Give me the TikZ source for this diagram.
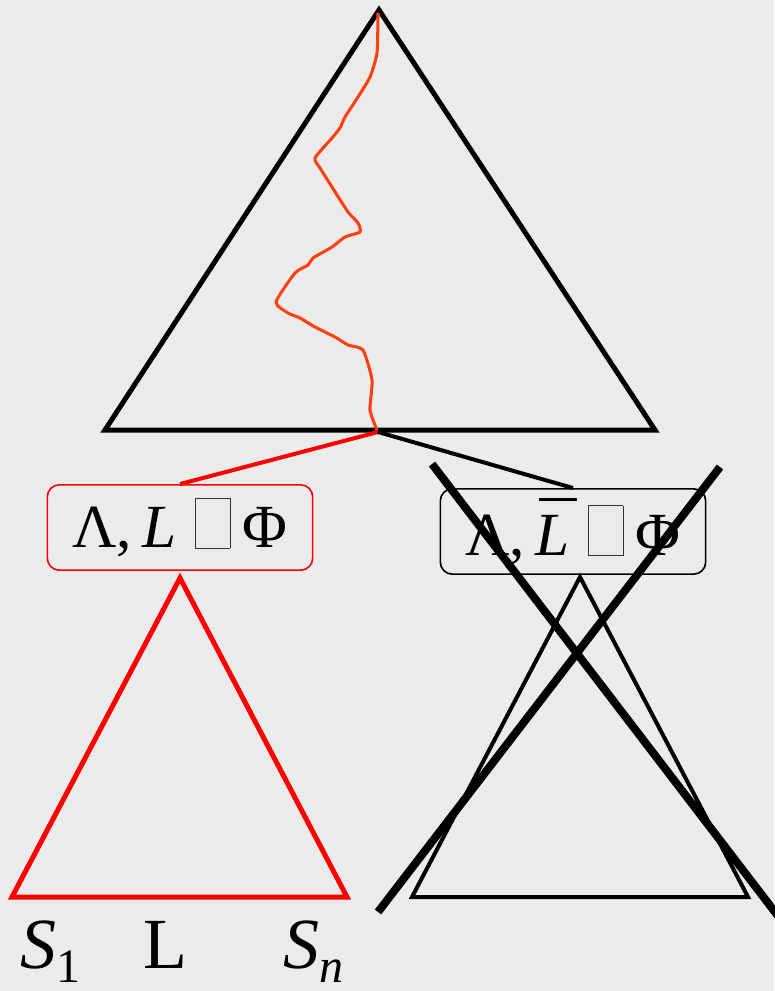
\documentclass[tikz,border=0pt]{standalone}
\usepackage{fontspec}
\setmainfont{Liberation Serif}
\usetikzlibrary{calc}

% a glyph the font could not set
\newcommand{\nglyph}{{\color{gray!40!black}\setlength{\fboxsep}{0pt}\setlength{\fboxrule}{0.6pt}\fbox{\rule{0pt}{0.8em}\hspace{0.55em}}}}
% a letter with a bar over it
\newcommand{\barred}[1]{\makebox[0pt][l]{\hspace{0.06em}\raisebox{0.88em}{\rule{0.62em}{0.05em}}}#1}

\definecolor{bggray}{RGB}{235,235,235}
\definecolor{pathred}{RGB}{255,64,16}

\begin{document}
\begin{tikzpicture}[x=0.75pt,y=-0.75pt,
    seqbox/.style={draw,rounded corners=9pt,line width=1.2pt,minimum width=199pt,minimum height=64pt,inner sep=0pt,font=\fontsize{46}{52}\selectfont},
    leaf/.style={font=\fontsize{54}{60}\selectfont,anchor=base}]
    \fill[bggray] (0,0) rectangle (774,991);
    \useasboundingbox (0,0) rectangle (774,991);

    % Define the big proof tree
    \coordinate (T) at (379,10);
    \coordinate (TL) at (105,430);
    \coordinate (TR) at (655,430);
    \coordinate (R) at (378,432); % root of the tree
    \draw[line width=3.75pt] (T) -- (TL) -- (TR) -- cycle;

    % The branch chosen through the tree
    \draw[pathred,line width=2.3pt,line join=round] plot[smooth,tension=0.35] coordinates {
        (378,13) (377,53) (370,77) (358,97) (345,117) (340,128) (332,138) (315,158)
        (320,168) (332,187) (348,212) (358,223) (360,232) (345,237) (332,247) (313,258)
        (308,265) (295,273) (276,302) (288,313) (300,318) (315,327) (335,337) (348,345)
        (363,350) (372,380) (370,410) (377,430)};

    % The two sequents
    \node[seqbox,draw=red] (good) at (180,527.5) {Λ,\,\textit{L}\hspace{0.3em}\nglyph\hspace{0.2em}Φ};
    \node[seqbox] (bad) at (573,531.5) {Λ,\,\barred{\textit{L}}\hspace{0.3em}\nglyph\hspace{0.2em}Φ};
    \draw[red,line width=3pt] (R) -- (good.north);
    \draw[line width=3pt] (R) -- (bad.north);

    % The subtree under the good sequent
    \coordinate (A) at (180,578);
    \coordinate (B) at (12,897);
    \coordinate (C) at (347,897);
    \draw[red,line width=3.75pt] (A) -- (B) -- (C) -- cycle;

    % The subtree under the bad sequent, crossed out
    \coordinate (D) at (580,577);
    \coordinate (E) at (412,897);
    \coordinate (F) at (748,897);
    \draw[line width=3pt] (D) -- (E) -- (F) -- cycle;
    \coordinate (X1) at (432,464);
    \coordinate (X2) at (778,916);
    \coordinate (X3) at (720,467);
    \coordinate (X4) at (378,912);
    \draw[line width=6pt] (X1) -- (X2);
    \draw[line width=6pt] (X3) -- (X4);

    % Leaves
    \node[leaf] (s1) at (50,968) {\textit{S}\raisebox{-0.2em}{\fontsize{36}{40}\selectfont 1}};
    \node[leaf] (dots) at (165,968) {L};
    \node[leaf] (sn) at (313,968) {\textit{S}\raisebox{-0.2em}{\fontsize{36}{40}\selectfont\textit{n}}};
\end{tikzpicture}
\end{document}
